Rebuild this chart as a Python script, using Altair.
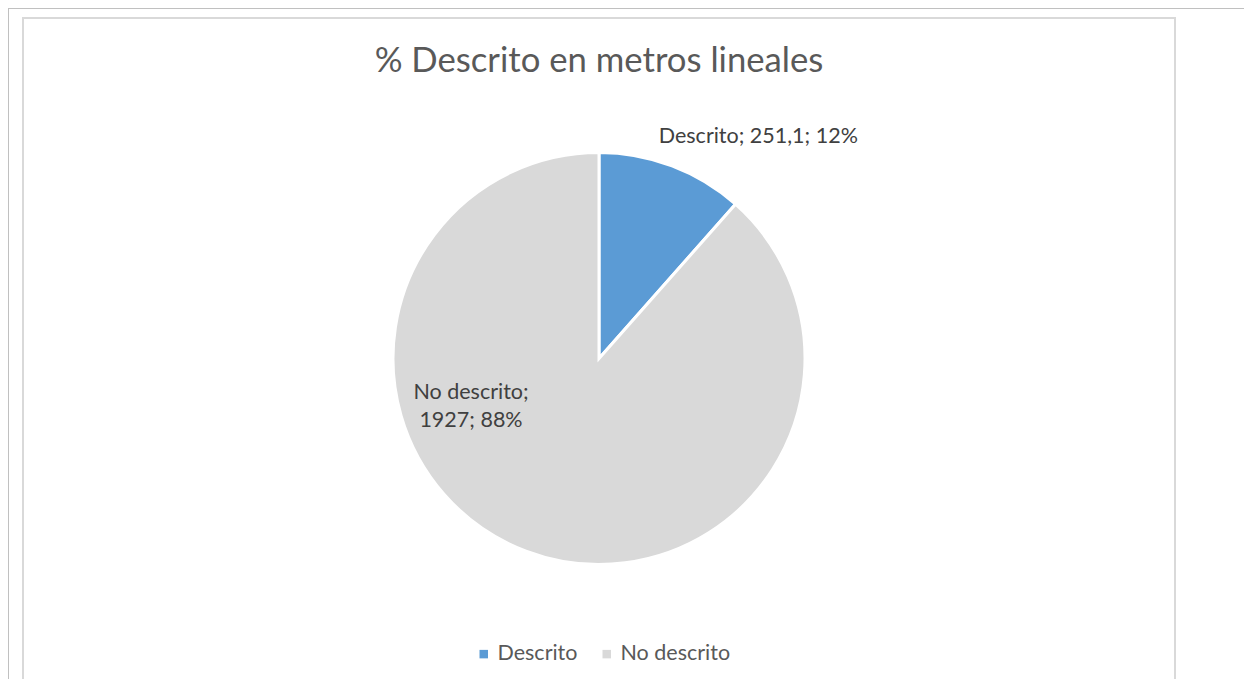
import altair as alt
import pandas as pd

categories = ["Descrito", "No descrito"]
values = [251.1, 1927]
value_texts = ["251,1", "1927"]
colors = ["#5B9BD5", "#D9D9D9"]

total = sum(values)
pcts = [round(v / total * 100) for v in values]

df = pd.DataFrame({
    "idx": list(range(len(categories))),
    "category": categories,
    "value": values,
    "label_full": [f"{c}; {t}; {p}%" for c, t, p in zip(categories, value_texts, pcts)],
    "label_two": [f"{c};\n{t}; {p}%" for c, t, p in zip(categories, value_texts, pcts)],
})

FONT = "Lato"
W, H = 1152, 641
R = 206
LAB = 21.5

theta_scale = alt.Scale(domain=[0, total])

base = alt.Chart(df)

pie = base.mark_arc(outerRadius=R, stroke="white", strokeWidth=3).encode(
    theta=alt.Theta("value:Q", stack=True, scale=theta_scale),
    color=alt.Color(
        "category:N",
        scale=alt.Scale(domain=categories, range=colors),
        legend=alt.Legend(
            title=None,
            orient="none",
            direction="horizontal",
            legendX=450,
            legendY=605,
            symbolType="square",
            symbolSize=72,
            symbolStrokeWidth=0,
            labelFont=FONT,
            labelFontSize=21.5,
            labelColor="#595959",
            labelOffset=3,
            columnPadding=18,
        ),
    ),
    order=alt.Order("idx:Q"),
)

stacked = base.transform_stack(
    stack="value", groupby=[], as_=["v0", "v1"], sort=[alt.SortField("idx")]
).transform_calculate(mid="(datum.v0 + datum.v1) / 2")

lab_desc = stacked.transform_filter(alt.datum.category == categories[0]).mark_text(
    radius=238, dx=75, dy=1, font=FONT, fontSize=LAB, color="#404040",
    align="center", baseline="middle",
).encode(
    theta=alt.Theta("mid:Q", stack=False, scale=theta_scale),
    text="label_full:N",
)

lab_nodesc = stacked.transform_filter(alt.datum.category == categories[1]).mark_text(
    radius=48, dx=-111, dy=-10, font=FONT, fontSize=LAB, color="#404040",
    align="center", baseline="middle", lineBreak="\n", lineHeight=28,
).encode(
    theta=alt.Theta("mid:Q", stack=False, scale=theta_scale),
    text="label_two:N",
)

one = alt.Chart(alt.Data(values=[{"k": 1}]))
outer_top = one.mark_rule(color="#c0c0c0", strokeWidth=1).encode(
    x=alt.value(-15), x2=alt.value(1221), y=alt.value(-29.5)
)
outer_left = one.mark_rule(color="#c0c0c0", strokeWidth=1).encode(
    x=alt.value(-14.5), y=alt.value(-30), y2=alt.value(641)
)
frame_top = one.mark_rule(color="#d9d9d9", strokeWidth=2).encode(
    x=alt.value(-1), x2=alt.value(1153), y=alt.value(-20)
)
frame_left = one.mark_rule(color="#d9d9d9", strokeWidth=2).encode(
    x=alt.value(0), y=alt.value(-21), y2=alt.value(641)
)
frame_right = one.mark_rule(color="#d9d9d9", strokeWidth=2).encode(
    x=alt.value(1152), y=alt.value(-21), y2=alt.value(641)
)

chart = alt.layer(
    outer_top, outer_left, frame_top, frame_left, frame_right,
    pie, lab_desc, lab_nodesc,
).properties(
    width=W,
    height=H,
    autosize=alt.AutoSizeParams(type="none"),
    padding={"left": 15, "top": 30, "right": 69, "bottom": 0},
    title=alt.TitleParams(
        text="% Descrito en metros lineales",
        font=FONT,
        fontSize=34.7,
        fontWeight="normal",
        color="#595959",
        anchor="middle",
        baseline="alphabetic",
        offset=-75,
        dy=24,
    ),
).configure_view(strokeWidth=0)

chart.save("out.html", embed_options={"renderer": "svg", "actions": False})
